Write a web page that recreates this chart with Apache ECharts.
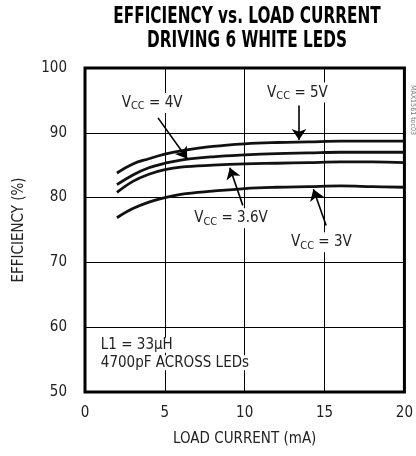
<!DOCTYPE html>
<html><head><meta charset="utf-8">
<script src="https://cdn.jsdelivr.net/npm/echarts@6/dist/echarts.min.js"></script>
<style>html,body{margin:0;padding:0;background:#fff}#c{width:416px;height:456px}</style>
</head><body><div id="c"></div>
<script>
const FONT = '"Liberation Sans Narrow","DejaVu Sans Condensed","Liberation Sans",sans-serif';
const titleLines = ['EFFICIENCY vs. LOAD CURRENT', 'DRIVING 6 WHITE LEDS'];
const xName = 'LOAD CURRENT (mA)';
const yName = 'EFFICIENCY (%)';
const current = [2, 3, 4, 5, 6, 8, 10, 12, 14, 16, 18, 20];
const eff5V  = [83.8, 85.2, 86.0, 86.7, 87.2, 87.9, 88.3, 88.5, 88.6, 88.7, 88.7, 88.7];
const eff4V  = [82.0, 83.5, 84.6, 85.3, 85.8, 86.3, 86.6, 86.8, 86.9, 87.0, 87.0, 87.0];
const eff36V = [80.8, 82.5, 83.6, 84.3, 84.7, 85.0, 85.2, 85.3, 85.4, 85.5, 85.5, 85.4];
const eff3V  = [76.9, 78.3, 79.3, 80.0, 80.5, 81.0, 81.4, 81.6, 81.7, 81.8, 81.7, 81.6];
const seriesNames = ['VCC = 5V', 'VCC = 4V', 'VCC = 3.6V', 'VCC = 3V'];
const annLabels = [' = 4V', ' = 5V', ' = 3.6V', ' = 3V'];
const annLabelPos = [[4.2, 94.6], [13.3, 96.2], [9.14, 76.8], [14.8, 73.1]];
const annArrowFrom = [[4.57, 92.3], [13.4, 94.2], [9.88, 78.8], [15.1, 75.7]];
const annArrowTo = [[6.4, 86.0], [13.4, 88.9], [9.07, 84.6], [14.3, 81.3]];
const noteLines = ['L1 = 33µH', '4700pF ACROSS LEDs'];
const notePos = [[0.93, 57.2], [0.93, 54.5]];

const zip = (xs, ys) => xs.map((x, i) => [x, ys[i]]);
const chart = echarts.init(document.getElementById('c'));
const lineSeries = (name, ys) => ({
  name, type: 'line', data: zip(current, ys), smooth: 0.4, showSymbol: false,
  lineStyle: {color: '#111', width: 2.8}, silent: true, z: 3
});
const series = [
  lineSeries(seriesNames[0], eff5V),
  lineSeries(seriesNames[1], eff4V),
  lineSeries(seriesNames[2], eff36V),
  lineSeries(seriesNames[3], eff3V)
];
series[0].markLine = {
  silent: true, symbol: ['none', 'arrow'], symbolSize: 11,
  lineStyle: {color: '#000', width: 1.6, type: 'solid'}, itemStyle: {color: '#000'},
  label: {show: false}, emphasis: {disabled: true},
  data: annArrowFrom.map((f, i) => [{coord: f}, {coord: annArrowTo[i]}])
};
chart.setOption({
  animation: false,
  backgroundColor: '#fff',
  grid: {left: 85, right: 8, top: 68, bottom: 64, show: true, borderColor: '#000', borderWidth: 3, backgroundColor: '#fff'},
  xAxis: {
    type: 'value', min: 0, max: 20, interval: 5,
    name: xName, nameLocation: 'middle', nameGap: 40,
    nameTextStyle: {fontFamily: FONT, fontSize: 15, color: '#222'},
    axisLine: {show: false}, axisTick: {show: false},
    axisLabel: {fontFamily: FONT, fontSize: 15, color: '#222', margin: 14},
    splitLine: {lineStyle: {color: '#000', width: 1}}
  },
  yAxis: {
    type: 'value', min: 50, max: 100, interval: 10,
    name: yName, nameLocation: 'middle', nameGap: 58,
    nameTextStyle: {fontFamily: FONT, fontSize: 15, color: '#222'},
    axisLine: {show: false}, axisTick: {show: false},
    axisLabel: {fontFamily: FONT, fontSize: 15, color: '#222', margin: 18},
    splitLine: {lineStyle: {color: '#000', width: 1}}
  },
  series
});
const px = p => chart.convertToPixel({gridIndex: 0}, p);
const graphics = [];
titleLines.forEach((t, i) => {
  graphics.push({type: 'text', x: 247, y: 17 + i * 24, scaleX: 0.85, scaleY: 1.15, style: {
    text: t, x: 0, y: 0, align: 'center', verticalAlign: 'middle',
    font: 'bold 20px ' + FONT, fill: '#000'}, z: 10});
});
annLabels.forEach((t, i) => {
  const p = px(annLabelPos[i]);
  graphics.push({type: 'text', x: p[0], y: p[1], z: 10, style: {
    text: '{v|V}{s|CC}{v|' + t + '}', align: 'center', verticalAlign: 'middle',
    backgroundColor: '#fff', padding: [1, 2],
    rich: {
      v: {fontFamily: FONT, fontSize: 15, fill: '#222', backgroundColor: '#fff'},
      s: {fontFamily: FONT, fontSize: 11, fill: '#222', padding: [7, 0, 0, 0], backgroundColor: '#fff'}
    }}});
});
noteLines.forEach((t, i) => {
  const p = px(notePos[i]);
  graphics.push({type: 'text', x: p[0], y: p[1], z: 10, style: {
    text: t, align: 'left', verticalAlign: 'middle', backgroundColor: '#fff', padding: [0, 1],
    font: '15px ' + FONT, fill: '#222'}});
});
graphics.push({type: 'text', x: 413, y: 110, rotation: -Math.PI / 2, z: 10, style: {
  text: 'MAX1561 toc03', align: 'center', verticalAlign: 'middle', font: '7px ' + FONT, fill: '#777'}});
chart.setOption({graphic: graphics});
</script></body></html>
